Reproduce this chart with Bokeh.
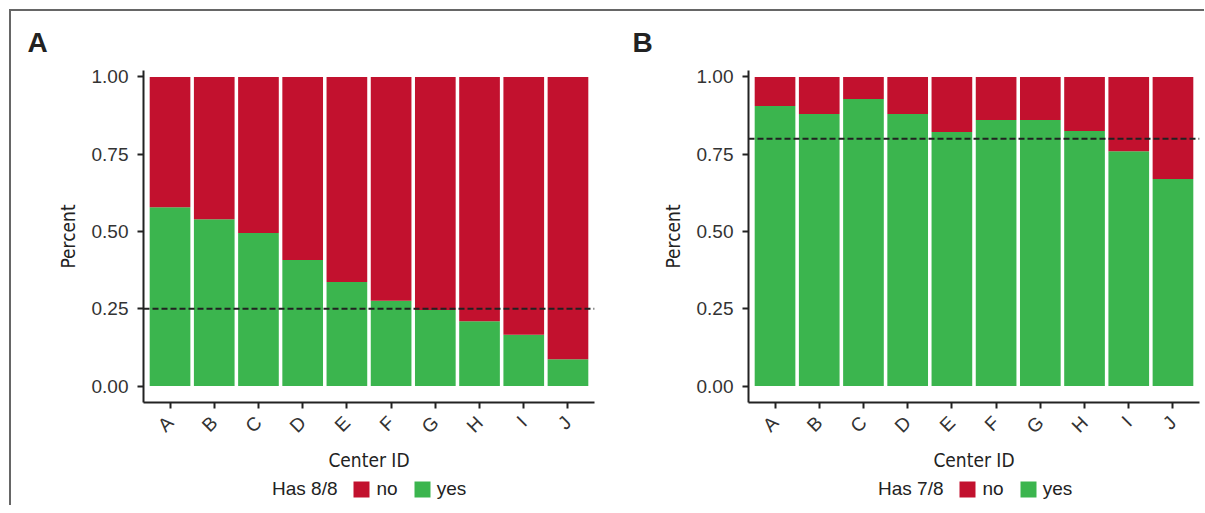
import math
from bokeh.plotting import figure
from bokeh.models import (FactorRange, Range1d, FixedTicker, PrintfTickFormatter,
                          Span, Legend, LegendItem, ColumnDataSource)
from bokeh.layouts import row, column
from bokeh.embed import file_html
from bokeh.resources import INLINE

# ---- data ----
centers = ["A", "B", "C", "D", "E", "F", "G", "H", "I", "J"]
yes_a = [0.579, 0.540, 0.495, 0.408, 0.337, 0.276, 0.246, 0.210, 0.166, 0.087]
yes_b = [0.906, 0.880, 0.929, 0.880, 0.822, 0.861, 0.861, 0.825, 0.760, 0.670]
threshold_a = 0.25
threshold_b = 0.80
y_ticks = [0.0, 0.25, 0.50, 0.75, 1.00]
panel_labels = ["A", "B"]
legend_titles = ["Has 8/8", "Has 7/8"]
legend_labels = ["no", "yes"]

RED = "#C2112E"
GREEN = "#3BB54E"
INK = "#222222"
FONT = "Liberation Sans"
NARROW = "DejaVu Sans Condensed"

FRAME_H = 332
FIG_H = 464
TOP = 59
LEG_H = 30


def make_panel(yes, thr, panel_label, width, left, right):
    src = ColumnDataSource(dict(center=centers, yes=yes, one=[1.0] * len(centers),
                                zero=[0.0] * len(centers)))
    p = figure(x_range=FactorRange(factors=centers, range_padding=0.1,
                                   range_padding_units="absolute"),
               y_range=Range1d(-0.053, 1.021),
               width=width, height=FIG_H, output_backend="svg", toolbar_location=None,
               min_border_left=left, min_border_right=right,
               min_border_top=TOP, min_border_bottom=FIG_H - TOP - FRAME_H,
               title=panel_label)
    p.vbar(x="center", bottom="zero", top="yes", width=0.92, source=src,
           fill_color=GREEN, line_color=None)
    p.vbar(x="center", bottom="yes", top="one", width=0.92, source=src,
           fill_color=RED, line_color=None)
    p.add_layout(Span(location=thr, dimension="width", line_color=INK,
                      line_width=2, line_dash="6 3"))

    p.title.align = "left"
    p.title.offset = -116
    p.title.standoff = 25
    p.title.text_font = FONT
    p.title.text_font_style = "bold"
    p.title.text_font_size = "28px"
    p.title.text_color = INK

    p.grid.visible = False
    p.outline_line_color = None
    p.background_fill_color = "white"
    p.border_fill_color = "white"

    for ax in (p.xaxis[0], p.yaxis[0]):
        ax.axis_line_width = 2
        ax.axis_line_color = INK
        ax.major_tick_line_width = 2
        ax.major_tick_line_color = INK
        ax.major_tick_out = 6
        ax.major_tick_in = 0
        ax.minor_tick_line_color = None
        ax.major_label_text_font = FONT
        ax.major_label_text_font_size = "19px"
        ax.major_label_text_color = "#333333"
        ax.axis_label_text_font = NARROW
        ax.axis_label_text_font_size = "19px"
        ax.axis_label_text_font_style = "normal"
        ax.axis_label_text_color = INK

    p.yaxis.ticker = FixedTicker(ticks=y_ticks)
    p.yaxis.formatter = PrintfTickFormatter(format="%.2f")
    p.yaxis.axis_label = "Percent"
    p.yaxis.major_label_standoff = 9
    p.yaxis.axis_label_standoff = 10

    p.xaxis.axis_label = "Center ID"
    p.xaxis.major_label_orientation = math.pi / 4
    p.xaxis.major_label_standoff = 11
    p.xaxis.axis_label_standoff = 1
    return p


def make_legend(leg_title, width, x0):
    lf = figure(width=width, height=LEG_H, output_backend="svg", toolbar_location=None,
                x_range=Range1d(0, 1), y_range=Range1d(0, 1),
                min_border=0, min_border_left=0, min_border_right=0,
                min_border_top=0, min_border_bottom=0)
    lf.axis.visible = False
    lf.grid.visible = False
    lf.outline_line_color = None
    # off-view placeholder rows: these renderers only supply the legend swatches
    dummy = ColumnDataSource(dict(x=[-9.0], top=[-9.0], bottom=[-9.5]))
    r_title = lf.vbar(x="x", top="top", bottom="bottom", width=0.1, source=dummy,
                      fill_alpha=0, line_alpha=0)
    r_no = lf.vbar(x="x", top="top", bottom="bottom", width=0.1, source=dummy,
                   fill_color=RED, line_color=None)
    r_yes = lf.vbar(x="x", top="top", bottom="bottom", width=0.1, source=dummy,
                    fill_color=GREEN, line_color=None)
    legend = Legend(items=[LegendItem(label=leg_title, renderers=[r_title]),
                           LegendItem(label=legend_labels[0], renderers=[r_no]),
                           LegendItem(label=legend_labels[1], renderers=[r_yes])],
                    location=(x0, 5), orientation="horizontal",
                    glyph_width=20, glyph_height=20, label_height=20,
                    label_standoff=5, spacing=14, padding=0, margin=0,
                    border_line_color=None, background_fill_alpha=0,
                    label_text_font=FONT, label_text_font_size="19px",
                    label_text_color=INK)
    lf.add_layout(legend, "center")
    return lf


pa = make_panel(yes_a, threshold_a, panel_labels[0], 600, 132, 17)
pb = make_panel(yes_b, threshold_b, panel_labels[1], 593, 137, 5)
la = make_legend(legend_titles[0], 600, 236)
lb = make_legend(legend_titles[1], 593, 242)

layout = column(row(pa, pb), row(la, lb), margin=(9, 0, 0, 9),
                styles={"border-left": "2px solid #666666",
                        "border-top": "2px solid #666666"})

open("out.html", "w").write(file_html(layout, INLINE))
